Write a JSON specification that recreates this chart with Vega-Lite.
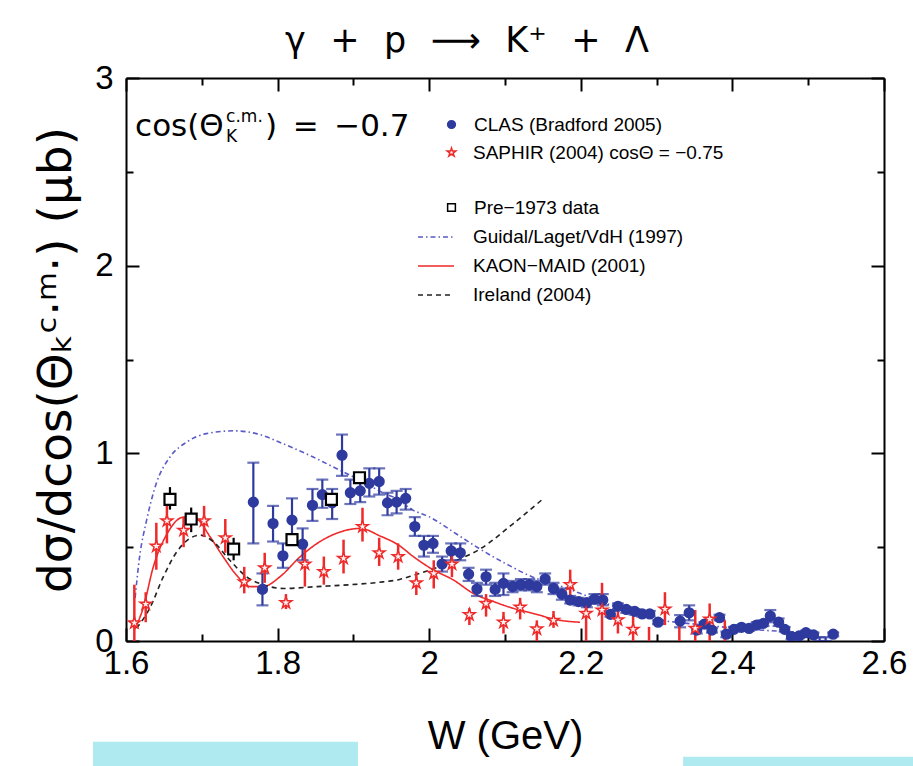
{
  "$schema": "https://vega.github.io/schema/vega-lite/v6.json",
  "width": 758,
  "height": 563,
  "autosize": {"type": "none"},
  "padding": {"left": 126, "top": 78, "right": 29, "bottom": 125},
  "background": "white",
  "config": {"view": {"stroke": null}, "font": "Liberation Sans"},
  "title": {
    "text": "γ\u2002\u2009+\u2002\u2009p\u2002\u2009⟶\u2002\u2009K⁺\u2002\u2009+\u2002\u2009Λ",
    "fontSize": 35, "font": "DejaVu Sans", "fontWeight": "normal", "color": "black",
    "frame": "group", "anchor": "middle", "dx": -38, "dy": 52, "offset": 27, "baseline": "alphabetic"
  },
  "datasets": {
    "curves": [
      {"model": "Guidal/Laget/VdH (1997)", "W": 1.612, "v": 0.23},
      {"model": "Guidal/Laget/VdH (1997)", "W": 1.618, "v": 0.45},
      {"model": "Guidal/Laget/VdH (1997)", "W": 1.627, "v": 0.64},
      {"model": "Guidal/Laget/VdH (1997)", "W": 1.640, "v": 0.84},
      {"model": "Guidal/Laget/VdH (1997)", "W": 1.658, "v": 0.98},
      {"model": "Guidal/Laget/VdH (1997)", "W": 1.680, "v": 1.06},
      {"model": "Guidal/Laget/VdH (1997)", "W": 1.706, "v": 1.105},
      {"model": "Guidal/Laget/VdH (1997)", "W": 1.742, "v": 1.12},
      {"model": "Guidal/Laget/VdH (1997)", "W": 1.772, "v": 1.105},
      {"model": "Guidal/Laget/VdH (1997)", "W": 1.808, "v": 1.05},
      {"model": "Guidal/Laget/VdH (1997)", "W": 1.847, "v": 0.98},
      {"model": "Guidal/Laget/VdH (1997)", "W": 1.882, "v": 0.91},
      {"model": "Guidal/Laget/VdH (1997)", "W": 1.909, "v": 0.856},
      {"model": "Guidal/Laget/VdH (1997)", "W": 1.939, "v": 0.79},
      {"model": "Guidal/Laget/VdH (1997)", "W": 1.961, "v": 0.75},
      {"model": "Guidal/Laget/VdH (1997)", "W": 1.975, "v": 0.706},
      {"model": "Guidal/Laget/VdH (1997)", "W": 2.001, "v": 0.66},
      {"model": "Guidal/Laget/VdH (1997)", "W": 2.036, "v": 0.57},
      {"model": "Guidal/Laget/VdH (1997)", "W": 2.067, "v": 0.49},
      {"model": "Guidal/Laget/VdH (1997)", "W": 2.102, "v": 0.41},
      {"model": "Guidal/Laget/VdH (1997)", "W": 2.137, "v": 0.34},
      {"model": "Guidal/Laget/VdH (1997)", "W": 2.168, "v": 0.30},
      {"model": "Guidal/Laget/VdH (1997)", "W": 2.199, "v": 0.254},
      {"model": "Guidal/Laget/VdH (1997)", "W": 2.234, "v": 0.20},
      {"model": "Guidal/Laget/VdH (1997)", "W": 2.274, "v": 0.14},
      {"model": "Guidal/Laget/VdH (1997)", "W": 2.30, "v": 0.115},
      {"model": "Guidal/Laget/VdH (1997)", "W": 2.35, "v": 0.09},
      {"model": "Guidal/Laget/VdH (1997)", "W": 2.40, "v": 0.07},
      {"model": "Guidal/Laget/VdH (1997)", "W": 2.45, "v": 0.055},
      {"model": "Guidal/Laget/VdH (1997)", "W": 2.50, "v": 0.045},
      {"model": "KAON−MAID (2001)", "W": 1.611, "v": 0.06},
      {"model": "KAON−MAID (2001)", "W": 1.623, "v": 0.18},
      {"model": "KAON−MAID (2001)", "W": 1.636, "v": 0.395},
      {"model": "KAON−MAID (2001)", "W": 1.654, "v": 0.57},
      {"model": "KAON−MAID (2001)", "W": 1.676, "v": 0.66},
      {"model": "KAON−MAID (2001)", "W": 1.693, "v": 0.65},
      {"model": "KAON−MAID (2001)", "W": 1.711, "v": 0.555},
      {"model": "KAON−MAID (2001)", "W": 1.728, "v": 0.45},
      {"model": "KAON−MAID (2001)", "W": 1.746, "v": 0.35},
      {"model": "KAON−MAID (2001)", "W": 1.764, "v": 0.29},
      {"model": "KAON−MAID (2001)", "W": 1.781, "v": 0.29},
      {"model": "KAON−MAID (2001)", "W": 1.803, "v": 0.342},
      {"model": "KAON−MAID (2001)", "W": 1.830, "v": 0.45},
      {"model": "KAON−MAID (2001)", "W": 1.856, "v": 0.53},
      {"model": "KAON−MAID (2001)", "W": 1.882, "v": 0.58},
      {"model": "KAON−MAID (2001)", "W": 1.909, "v": 0.60},
      {"model": "KAON−MAID (2001)", "W": 1.935, "v": 0.56},
      {"model": "KAON−MAID (2001)", "W": 1.960, "v": 0.51},
      {"model": "KAON−MAID (2001)", "W": 1.979, "v": 0.45},
      {"model": "KAON−MAID (2001)", "W": 2.005, "v": 0.38},
      {"model": "KAON−MAID (2001)", "W": 2.032, "v": 0.325},
      {"model": "KAON−MAID (2001)", "W": 2.058, "v": 0.254},
      {"model": "KAON−MAID (2001)", "W": 2.085, "v": 0.21},
      {"model": "KAON−MAID (2001)", "W": 2.111, "v": 0.174},
      {"model": "KAON−MAID (2001)", "W": 2.137, "v": 0.147},
      {"model": "KAON−MAID (2001)", "W": 2.173, "v": 0.11},
      {"model": "KAON−MAID (2001)", "W": 2.199, "v": 0.10},
      {"model": "Ireland (2004)", "W": 1.614, "v": 0.068},
      {"model": "Ireland (2004)", "W": 1.632, "v": 0.18},
      {"model": "Ireland (2004)", "W": 1.649, "v": 0.34},
      {"model": "Ireland (2004)", "W": 1.667, "v": 0.475},
      {"model": "Ireland (2004)", "W": 1.684, "v": 0.546},
      {"model": "Ireland (2004)", "W": 1.698, "v": 0.564},
      {"model": "Ireland (2004)", "W": 1.715, "v": 0.53},
      {"model": "Ireland (2004)", "W": 1.737, "v": 0.43},
      {"model": "Ireland (2004)", "W": 1.759, "v": 0.342},
      {"model": "Ireland (2004)", "W": 1.781, "v": 0.30},
      {"model": "Ireland (2004)", "W": 1.808, "v": 0.28},
      {"model": "Ireland (2004)", "W": 1.852, "v": 0.29},
      {"model": "Ireland (2004)", "W": 1.896, "v": 0.30},
      {"model": "Ireland (2004)", "W": 1.939, "v": 0.315},
      {"model": "Ireland (2004)", "W": 1.961, "v": 0.328},
      {"model": "Ireland (2004)", "W": 1.979, "v": 0.35},
      {"model": "Ireland (2004)", "W": 2.023, "v": 0.41},
      {"model": "Ireland (2004)", "W": 2.067, "v": 0.49},
      {"model": "Ireland (2004)", "W": 2.111, "v": 0.626},
      {"model": "Ireland (2004)", "W": 2.148, "v": 0.75}
    ],
    "pts": [
      {"series": "CLAS (Bradford 2005)", "W": 1.768, "v": 0.74, "lo": 0.52, "hi": 0.95},
      {"series": "CLAS (Bradford 2005)", "W": 1.780, "v": 0.275, "lo": 0.19, "hi": 0.36},
      {"series": "CLAS (Bradford 2005)", "W": 1.794, "v": 0.626, "lo": 0.53, "hi": 0.72},
      {"series": "CLAS (Bradford 2005)", "W": 1.807, "v": 0.454, "lo": 0.39, "hi": 0.52},
      {"series": "CLAS (Bradford 2005)", "W": 1.819, "v": 0.644, "lo": 0.54, "hi": 0.76},
      {"series": "CLAS (Bradford 2005)", "W": 1.833, "v": 0.516, "lo": 0.43, "hi": 0.60},
      {"series": "CLAS (Bradford 2005)", "W": 1.846, "v": 0.723, "lo": 0.64, "hi": 0.81},
      {"series": "CLAS (Bradford 2005)", "W": 1.859, "v": 0.78, "lo": 0.71, "hi": 0.86},
      {"series": "CLAS (Bradford 2005)", "W": 1.872, "v": 0.736, "lo": 0.65, "hi": 0.81},
      {"series": "CLAS (Bradford 2005)", "W": 1.885, "v": 0.99, "lo": 0.88, "hi": 1.10},
      {"series": "CLAS (Bradford 2005)", "W": 1.896, "v": 0.79, "lo": 0.73, "hi": 0.86},
      {"series": "CLAS (Bradford 2005)", "W": 1.909, "v": 0.80, "lo": 0.74, "hi": 0.87},
      {"series": "CLAS (Bradford 2005)", "W": 1.921, "v": 0.84, "lo": 0.77, "hi": 0.92},
      {"series": "CLAS (Bradford 2005)", "W": 1.934, "v": 0.85, "lo": 0.78, "hi": 0.92},
      {"series": "CLAS (Bradford 2005)", "W": 1.945, "v": 0.736, "lo": 0.67, "hi": 0.79},
      {"series": "CLAS (Bradford 2005)", "W": 1.957, "v": 0.74, "lo": 0.68, "hi": 0.80},
      {"series": "CLAS (Bradford 2005)", "W": 1.969, "v": 0.76, "lo": 0.70, "hi": 0.81},
      {"series": "CLAS (Bradford 2005)", "W": 1.981, "v": 0.61, "lo": 0.56, "hi": 0.66},
      {"series": "CLAS (Bradford 2005)", "W": 1.993, "v": 0.51, "lo": 0.45, "hi": 0.56},
      {"series": "CLAS (Bradford 2005)", "W": 2.005, "v": 0.52, "lo": 0.47, "hi": 0.56},
      {"series": "CLAS (Bradford 2005)", "W": 2.017, "v": 0.41, "lo": 0.37, "hi": 0.45},
      {"series": "CLAS (Bradford 2005)", "W": 2.029, "v": 0.48, "lo": 0.43, "hi": 0.52},
      {"series": "CLAS (Bradford 2005)", "W": 2.041, "v": 0.47, "lo": 0.43, "hi": 0.52},
      {"series": "CLAS (Bradford 2005)", "W": 2.052, "v": 0.356, "lo": 0.32, "hi": 0.39},
      {"series": "CLAS (Bradford 2005)", "W": 2.063, "v": 0.277, "lo": 0.24, "hi": 0.31},
      {"series": "CLAS (Bradford 2005)", "W": 2.075, "v": 0.342, "lo": 0.30, "hi": 0.38},
      {"series": "CLAS (Bradford 2005)", "W": 2.087, "v": 0.275, "lo": 0.24, "hi": 0.31},
      {"series": "CLAS (Bradford 2005)", "W": 2.098, "v": 0.307, "lo": 0.245, "hi": 0.36},
      {"series": "CLAS (Bradford 2005)", "W": 2.110, "v": 0.29, "lo": 0.26, "hi": 0.32},
      {"series": "CLAS (Bradford 2005)", "W": 2.121, "v": 0.30, "lo": 0.27, "hi": 0.33},
      {"series": "CLAS (Bradford 2005)", "W": 2.132, "v": 0.30, "lo": 0.27, "hi": 0.33},
      {"series": "CLAS (Bradford 2005)", "W": 2.142, "v": 0.29, "lo": 0.26, "hi": 0.32},
      {"series": "CLAS (Bradford 2005)", "W": 2.153, "v": 0.33, "lo": 0.30, "hi": 0.36},
      {"series": "CLAS (Bradford 2005)", "W": 2.164, "v": 0.28, "lo": 0.25, "hi": 0.31},
      {"series": "CLAS (Bradford 2005)", "W": 2.175, "v": 0.25, "lo": 0.22, "hi": 0.28},
      {"series": "CLAS (Bradford 2005)", "W": 2.186, "v": 0.218, "lo": 0.20, "hi": 0.24},
      {"series": "CLAS (Bradford 2005)", "W": 2.197, "v": 0.21, "lo": 0.19, "hi": 0.23},
      {"series": "CLAS (Bradford 2005)", "W": 2.208, "v": 0.204, "lo": 0.18, "hi": 0.22},
      {"series": "CLAS (Bradford 2005)", "W": 2.218, "v": 0.223, "lo": 0.20, "hi": 0.25},
      {"series": "CLAS (Bradford 2005)", "W": 2.229, "v": 0.218, "lo": 0.19, "hi": 0.25},
      {"series": "CLAS (Bradford 2005)", "W": 2.239, "v": 0.142, "lo": 0.13, "hi": 0.16},
      {"series": "CLAS (Bradford 2005)", "W": 2.249, "v": 0.185, "lo": 0.17, "hi": 0.20},
      {"series": "CLAS (Bradford 2005)", "W": 2.260, "v": 0.168, "lo": 0.15, "hi": 0.18},
      {"series": "CLAS (Bradford 2005)", "W": 2.271, "v": 0.158, "lo": 0.14, "hi": 0.17},
      {"series": "CLAS (Bradford 2005)", "W": 2.281, "v": 0.144, "lo": 0.13, "hi": 0.16},
      {"series": "CLAS (Bradford 2005)", "W": 2.291, "v": 0.144, "lo": 0.13, "hi": 0.16},
      {"series": "CLAS (Bradford 2005)", "W": 2.302, "v": 0.10, "lo": 0.09, "hi": 0.11},
      {"series": "CLAS (Bradford 2005)", "W": 2.331, "v": 0.106, "lo": 0.073, "hi": 0.138},
      {"series": "CLAS (Bradford 2005)", "W": 2.343, "v": 0.15, "lo": 0.11, "hi": 0.19},
      {"series": "CLAS (Bradford 2005)", "W": 2.353, "v": 0.058, "lo": 0.04, "hi": 0.07},
      {"series": "CLAS (Bradford 2005)", "W": 2.363, "v": 0.09, "lo": 0.08, "hi": 0.10},
      {"series": "CLAS (Bradford 2005)", "W": 2.373, "v": 0.058, "lo": 0.045, "hi": 0.07},
      {"series": "CLAS (Bradford 2005)", "W": 2.383, "v": 0.124, "lo": 0.11, "hi": 0.14},
      {"series": "CLAS (Bradford 2005)", "W": 2.392, "v": 0.036, "lo": 0.02, "hi": 0.05},
      {"series": "CLAS (Bradford 2005)", "W": 2.402, "v": 0.062, "lo": 0.05, "hi": 0.075},
      {"series": "CLAS (Bradford 2005)", "W": 2.412, "v": 0.073, "lo": 0.06, "hi": 0.085},
      {"series": "CLAS (Bradford 2005)", "W": 2.422, "v": 0.067, "lo": 0.055, "hi": 0.08},
      {"series": "CLAS (Bradford 2005)", "W": 2.432, "v": 0.085, "lo": 0.07, "hi": 0.10},
      {"series": "CLAS (Bradford 2005)", "W": 2.441, "v": 0.094, "lo": 0.08, "hi": 0.11},
      {"series": "CLAS (Bradford 2005)", "W": 2.450, "v": 0.133, "lo": 0.10, "hi": 0.165},
      {"series": "CLAS (Bradford 2005)", "W": 2.461, "v": 0.10, "lo": 0.08, "hi": 0.12},
      {"series": "CLAS (Bradford 2005)", "W": 2.469, "v": 0.062, "lo": 0.05, "hi": 0.075},
      {"series": "CLAS (Bradford 2005)", "W": 2.478, "v": 0.023, "lo": 0.01, "hi": 0.035},
      {"series": "CLAS (Bradford 2005)", "W": 2.488, "v": 0.027, "lo": 0.015, "hi": 0.04},
      {"series": "CLAS (Bradford 2005)", "W": 2.497, "v": 0.044, "lo": 0.03, "hi": 0.055},
      {"series": "CLAS (Bradford 2005)", "W": 2.507, "v": 0.032, "lo": 0.02, "hi": 0.045},
      {"series": "CLAS (Bradford 2005)", "W": 2.515, "v": -0.03, "lo": 0.0, "hi": 0.02},
      {"series": "CLAS (Bradford 2005)", "W": 2.523, "v": -0.03, "lo": 0.0, "hi": 0.02},
      {"series": "CLAS (Bradford 2005)", "W": 2.533, "v": 0.036, "lo": 0.025, "hi": 0.045},
      {"series": "SAPHIR (2004) cosΘ = −0.75", "W": 1.611, "v": 0.097, "lo": 0.0, "hi": 0.30},
      {"series": "SAPHIR (2004) cosΘ = −0.75", "W": 1.626, "v": 0.197, "lo": 0.10, "hi": 0.26},
      {"series": "SAPHIR (2004) cosΘ = −0.75", "W": 1.640, "v": 0.505, "lo": 0.38, "hi": 0.63},
      {"series": "SAPHIR (2004) cosΘ = −0.75", "W": 1.654, "v": 0.64, "lo": 0.52, "hi": 0.73},
      {"series": "SAPHIR (2004) cosΘ = −0.75", "W": 1.676, "v": 0.59, "lo": 0.50, "hi": 0.66},
      {"series": "SAPHIR (2004) cosΘ = −0.75", "W": 1.703, "v": 0.64, "lo": 0.555, "hi": 0.72},
      {"series": "SAPHIR (2004) cosΘ = −0.75", "W": 1.731, "v": 0.55, "lo": 0.47, "hi": 0.65},
      {"series": "SAPHIR (2004) cosΘ = −0.75", "W": 1.756, "v": 0.315, "lo": 0.254, "hi": 0.395},
      {"series": "SAPHIR (2004) cosΘ = −0.75", "W": 1.783, "v": 0.39, "lo": 0.31, "hi": 0.47},
      {"series": "SAPHIR (2004) cosΘ = −0.75", "W": 1.811, "v": 0.204, "lo": 0.17, "hi": 0.25},
      {"series": "SAPHIR (2004) cosΘ = −0.75", "W": 1.836, "v": 0.41, "lo": 0.29, "hi": 0.50},
      {"series": "SAPHIR (2004) cosΘ = −0.75", "W": 1.861, "v": 0.37, "lo": 0.30, "hi": 0.45},
      {"series": "SAPHIR (2004) cosΘ = −0.75", "W": 1.887, "v": 0.44, "lo": 0.36, "hi": 0.54},
      {"series": "SAPHIR (2004) cosΘ = −0.75", "W": 1.912, "v": 0.61, "lo": 0.53, "hi": 0.71},
      {"series": "SAPHIR (2004) cosΘ = −0.75", "W": 1.934, "v": 0.47, "lo": 0.40, "hi": 0.55},
      {"series": "SAPHIR (2004) cosΘ = −0.75", "W": 1.959, "v": 0.45, "lo": 0.38, "hi": 0.52},
      {"series": "SAPHIR (2004) cosΘ = −0.75", "W": 1.983, "v": 0.31, "lo": 0.245, "hi": 0.37},
      {"series": "SAPHIR (2004) cosΘ = −0.75", "W": 2.006, "v": 0.36, "lo": 0.28, "hi": 0.43},
      {"series": "SAPHIR (2004) cosΘ = −0.75", "W": 2.030, "v": 0.41, "lo": 0.34, "hi": 0.475},
      {"series": "SAPHIR (2004) cosΘ = −0.75", "W": 2.053, "v": 0.14, "lo": 0.085, "hi": 0.174},
      {"series": "SAPHIR (2004) cosΘ = −0.75", "W": 2.075, "v": 0.20, "lo": 0.13, "hi": 0.25},
      {"series": "SAPHIR (2004) cosΘ = −0.75", "W": 2.098, "v": 0.10, "lo": 0.04, "hi": 0.155},
      {"series": "SAPHIR (2004) cosΘ = −0.75", "W": 2.120, "v": 0.18, "lo": 0.115, "hi": 0.23},
      {"series": "SAPHIR (2004) cosΘ = −0.75", "W": 2.142, "v": 0.064, "lo": 0.0, "hi": 0.11},
      {"series": "SAPHIR (2004) cosΘ = −0.75", "W": 2.164, "v": 0.11, "lo": 0.07, "hi": 0.16},
      {"series": "SAPHIR (2004) cosΘ = −0.75", "W": 2.186, "v": 0.30, "lo": 0.21, "hi": 0.38},
      {"series": "SAPHIR (2004) cosΘ = −0.75", "W": 2.207, "v": 0.147, "lo": 0.0, "hi": 0.22},
      {"series": "SAPHIR (2004) cosΘ = −0.75", "W": 2.228, "v": 0.165, "lo": 0.0, "hi": 0.31},
      {"series": "SAPHIR (2004) cosΘ = −0.75", "W": 2.249, "v": 0.113, "lo": 0.04, "hi": 0.19},
      {"series": "SAPHIR (2004) cosΘ = −0.75", "W": 2.269, "v": 0.062, "lo": 0.0, "hi": 0.14},
      {"series": "SAPHIR (2004) cosΘ = −0.75", "W": 2.290, "v": -0.03, "lo": 0.0, "hi": 0.075},
      {"series": "SAPHIR (2004) cosΘ = −0.75", "W": 2.311, "v": 0.17, "lo": 0.085, "hi": 0.26},
      {"series": "SAPHIR (2004) cosΘ = −0.75", "W": 2.330, "v": -0.03, "lo": 0.0, "hi": 0.11},
      {"series": "SAPHIR (2004) cosΘ = −0.75", "W": 2.351, "v": 0.067, "lo": 0.0, "hi": 0.165},
      {"series": "SAPHIR (2004) cosΘ = −0.75", "W": 2.370, "v": 0.117, "lo": 0.0, "hi": 0.20},
      {"series": "SAPHIR (2004) cosΘ = −0.75", "W": 2.390, "v": -0.03, "lo": 0.0, "hi": 0.11},
      {"series": "Pre−1973 data", "W": 1.658, "v": 0.755, "lo": 0.70, "hi": 0.82},
      {"series": "Pre−1973 data", "W": 1.686, "v": 0.65, "lo": 0.58, "hi": 0.711},
      {"series": "Pre−1973 data", "W": 1.742, "v": 0.49, "lo": 0.43, "hi": 0.55},
      {"series": "Pre−1973 data", "W": 1.819, "v": 0.54, "lo": 0.54, "hi": 0.54},
      {"series": "Pre−1973 data", "W": 1.871, "v": 0.755, "lo": 0.755, "hi": 0.755},
      {"series": "Pre−1973 data", "W": 1.908, "v": 0.87, "lo": 0.87, "hi": 0.87}
    ]
  },
  "resolve": {
    "axis": {"x": "independent", "y": "independent"},
    "scale": {"shape": "independent"}
  },
  "layer": [
    {
      "data": {"values": [{}]},
      "mark": {"type": "rect", "color": "#aeeaf0", "clip": false},
      "encoding": {
        "x": {"datum": 1.5565, "type": "quantitative", "axis": null},
        "x2": {"datum": 1.906},
        "y": {"datum": -0.537, "type": "quantitative", "axis": null},
        "y2": {"datum": -0.70}
      }
    },
    {
      "data": {"values": [{}]},
      "mark": {"type": "rect", "color": "#aeeaf0", "clip": false},
      "encoding": {
        "x": {"datum": 2.335, "type": "quantitative", "axis": null},
        "x2": {"datum": 2.64},
        "y": {"datum": -0.617, "type": "quantitative", "axis": null},
        "y2": {"datum": -0.70}
      }
    },
    {
      "data": {"name": "curves"},
      "mark": {"type": "line", "strokeWidth": 1.6, "interpolate": "monotone", "clip": true},
      "encoding": {
        "x": {
          "field": "W", "type": "quantitative",
          "scale": {"domain": [1.6, 2.6], "nice": false, "zero": false},
          "axis": {
            "orient": "bottom",
            "values": [1.6, 1.7, 1.8, 1.9, 2, 2.1, 2.2, 2.3, 2.4, 2.5, 2.6],
            "labelExpr": "round(datum.value*10)%2==0 ? format(datum.value,'~g') : ''",
            "tickSize": {"condition": {"test": "round(datum.value*10)%2==0", "value": -13}, "value": -7},
            "tickWidth": 2, "tickColor": "black", "domainWidth": 2, "domainColor": "black",
            "labelFontSize": 33, "labelColor": "black", "labelPadding": 19,
            "labelFlush": false, "labelOverlap": false, "grid": false,
            "title": "W (GeV)", "titleFontSize": 40, "titleFontWeight": "normal", "titleColor": "black",
            "titleFont": "Liberation Sans", "titlePadding": 30
          }
        },
        "y": {
          "field": "v", "type": "quantitative",
          "scale": {"domain": [0, 3], "nice": false, "zero": false},
          "axis": {
            "orient": "left",
            "values": [0, 0.5, 1, 1.5, 2, 2.5, 3],
            "labelExpr": "datum.value % 1 == 0 ? format(datum.value,'d') : ''",
            "tickSize": {"condition": {"test": "datum.value % 1 == 0", "value": -13}, "value": -7},
            "tickWidth": 2, "tickColor": "black", "domainWidth": 2, "domainColor": "black",
            "labelFontSize": 33, "labelColor": "black", "labelPadding": 26,
            "labelFlush": false, "labelOverlap": false, "grid": false,
            "title": "dσ/dcos(Θₖᶜ·ᵐ·) (μb)", "titleFontSize": 47, "titleFontWeight": "normal",
            "titleColor": "black", "titleFont": "DejaVu Sans", "titlePadding": 14
          }
        },
        "color": {
          "field": "model", "type": "nominal",
          "scale": {"domain": ["Guidal/Laget/VdH (1997)", "KAON−MAID (2001)", "Ireland (2004)"], "range": ["#5a5ac8", "#ee2a2a", "#222222"]},
          "legend": {
            "orient": "none", "legendX": 291, "legendY": 140, "title": null, "padding": 0,
            "symbolType": "stroke", "symbolSize": 1296, "symbolStrokeWidth": 1.6,
            "labelFontSize": 19, "labelColor": "black", "labelOffset": 18, "rowPadding": -10, "labelLimit": 400
          }
        },
        "strokeDash": {
          "field": "model", "type": "nominal",
          "scale": {"domain": ["Guidal/Laget/VdH (1997)", "KAON−MAID (2001)", "Ireland (2004)"], "range": [[5, 3, 1.5, 3], [1, 0], [5, 4]]},
          "legend": {
            "orient": "none", "legendX": 291, "legendY": 140, "title": null, "padding": 0,
            "symbolType": "stroke", "symbolSize": 1296, "symbolStrokeWidth": 1.6,
            "labelFontSize": 19, "labelColor": "black", "labelOffset": 18, "rowPadding": -10, "labelLimit": 400
          }
        }
      }
    },
    {
      "data": {"name": "pts"},
      "transform": [{"filter": "datum.series == 'CLAS (Bradford 2005)'"}],
      "mark": {"type": "errorbar", "color": "#2e3a9e", "thickness": 2.2, "ticks": {"size": 12, "thickness": 2.2, "color": "#2e3a9e"}, "clip": true},
      "encoding": {
        "x": {"field": "W", "type": "quantitative", "axis": null},
        "y": {"field": "lo", "type": "quantitative", "axis": null},
        "y2": {"field": "hi"}
      }
    },
    {
      "data": {"name": "pts"},
      "transform": [{"filter": "datum.series == 'SAPHIR (2004) cosΘ = −0.75'"}],
      "mark": {"type": "rule", "color": "#ee2a2a", "strokeWidth": 2.5, "clip": true},
      "encoding": {
        "x": {"field": "W", "type": "quantitative", "axis": null},
        "y": {"field": "lo", "type": "quantitative", "axis": null},
        "y2": {"field": "hi"}
      }
    },
    {
      "data": {"name": "pts"},
      "transform": [{"filter": "datum.series == 'Pre−1973 data'"}],
      "mark": {"type": "rule", "color": "black", "strokeWidth": 2.2, "clip": true},
      "encoding": {
        "x": {"field": "W", "type": "quantitative", "axis": null},
        "y": {"field": "lo", "type": "quantitative", "axis": null},
        "y2": {"field": "hi"}
      }
    },
    {
      "data": {"name": "pts"},
      "transform": [{"filter": "datum.series == 'CLAS (Bradford 2005)'"}],
      "mark": {"type": "point", "filled": true, "fill": "#2e3a9e", "stroke": "#2e3a9e", "size": 95, "strokeWidth": 1.5, "opacity": 1, "clip": true},
      "encoding": {
        "x": {
          "field": "W", "type": "quantitative",
          "axis": {
            "orient": "top", "values": [1.6, 1.7, 1.8, 1.9, 2, 2.1, 2.2, 2.3, 2.4, 2.5, 2.6],
            "labels": false, "title": null, "grid": false,
            "tickSize": {"condition": {"test": "round(datum.value*10)%2==0", "value": -13}, "value": -7},
            "tickWidth": 2, "tickColor": "black", "domainWidth": 2, "domainColor": "black"
          }
        },
        "y": {
          "field": "v", "type": "quantitative",
          "axis": {
            "orient": "right", "values": [0, 0.5, 1, 1.5, 2, 2.5, 3],
            "labels": false, "title": null, "grid": false,
            "tickSize": {"condition": {"test": "datum.value % 1 == 0", "value": -13}, "value": -7},
            "tickWidth": 2, "tickColor": "black", "domainWidth": 2, "domainColor": "black"
          }
        },
        "shape": {
          "field": "series", "type": "nominal",
          "scale": {"domain": ["CLAS (Bradford 2005)"], "range": ["circle"]},
          "legend": {
            "orient": "none", "legendX": 316, "legendY": 37, "title": null, "padding": 0,
            "symbolSize": 60,
            "labelFontSize": 19, "labelColor": "black", "labelOffset": 13, "labelLimit": 400,
            "encode": {
              "symbols": {
                "update": {
                  "fill": {"value": "#2e3a9e"},
                  "stroke": {"value": "#2e3a9e"},
                  "strokeWidth": {"value": 1},
                  "opacity": {"value": 1}
                }
              }
            }
          }
        }
      }
    },
    {
      "data": {"name": "pts"},
      "transform": [{"filter": "datum.series == 'SAPHIR (2004) cosΘ = −0.75'"}],
      "mark": {"type": "point", "filled": true, "fill": "#fff0f0", "stroke": "#ee2a2a", "size": 150, "strokeWidth": 1.5, "opacity": 1, "clip": true},
      "encoding": {
        "x": {"field": "W", "type": "quantitative", "axis": null},
        "y": {"field": "v", "type": "quantitative", "axis": null},
        "shape": {
          "field": "series", "type": "nominal",
          "scale": {"domain": ["SAPHIR (2004) cosΘ = −0.75"], "range": ["M0,-1L0.225,-0.309L0.951,-0.309L0.363,0.118L0.588,0.809L0,0.382L-0.588,0.809L-0.363,0.118L-0.951,-0.309L-0.225,-0.309Z"]},
          "legend": {
            "orient": "none", "legendX": 316, "legendY": 65, "title": null, "padding": 0,
            "symbolSize": 80,
            "labelFontSize": 19, "labelColor": "black", "labelOffset": 12, "labelLimit": 400,
            "encode": {
              "symbols": {
                "update": {
                  "fill": {"value": "#fff0f0"},
                  "stroke": {"value": "#ee2a2a"},
                  "strokeWidth": {"value": 1.2},
                  "opacity": {"value": 1}
                }
              }
            }
          }
        }
      }
    },
    {
      "data": {"name": "pts"},
      "transform": [{"filter": "datum.series == 'Pre−1973 data'"}],
      "mark": {"type": "point", "shape": "square", "filled": true, "fill": "white", "stroke": "black", "size": 120, "strokeWidth": 2.2, "opacity": 1},
      "encoding": {
        "x": {"field": "W", "type": "quantitative", "axis": null},
        "y": {"field": "v", "type": "quantitative", "axis": null},
        "shape": {
          "field": "series", "type": "nominal",
          "scale": {"domain": ["Pre−1973 data"], "range": ["square"]},
          "legend": {
            "orient": "none", "legendX": 316, "legendY": 120, "title": null, "padding": 0,
            "symbolSize": 60,
            "labelFontSize": 19, "labelColor": "black", "labelOffset": 13, "labelLimit": 400,
            "encode": {
              "symbols": {
                "update": {
                  "fill": {"value": "white"},
                  "stroke": {"value": "black"},
                  "strokeWidth": {"value": 1.3},
                  "opacity": {"value": 1}
                }
              }
            }
          }
        }
      }
    },
    {
      "data": {"values": [{}]},
      "mark": {"type": "text", "align": "left", "baseline": "alphabetic", "fontSize": 31, "font": "DejaVu Sans", "color": "black", "text": "cos(Θ"},
      "encoding": {
        "x": {"datum": 1.612, "type": "quantitative", "axis": null},
        "y": {"datum": 2.69, "type": "quantitative", "axis": null}
      }
    },
    {
      "data": {"values": [{}]},
      "mark": {"type": "text", "align": "left", "baseline": "alphabetic", "fontSize": 17, "font": "DejaVu Sans", "color": "black", "text": "c.m.", "dx": 91, "dy": -14},
      "encoding": {
        "x": {"datum": 1.612, "type": "quantitative", "axis": null},
        "y": {"datum": 2.69, "type": "quantitative", "axis": null}
      }
    },
    {
      "data": {"values": [{}]},
      "mark": {"type": "text", "align": "left", "baseline": "alphabetic", "fontSize": 17, "font": "DejaVu Sans", "color": "black", "text": "K", "dx": 91, "dy": 6},
      "encoding": {
        "x": {"datum": 1.612, "type": "quantitative", "axis": null},
        "y": {"datum": 2.69, "type": "quantitative", "axis": null}
      }
    },
    {
      "data": {"values": [{}]},
      "mark": {"type": "text", "align": "left", "baseline": "alphabetic", "fontSize": 31, "font": "DejaVu Sans", "color": "black", "text": ")\u2002=\u2002−0.7", "dx": 130},
      "encoding": {
        "x": {"datum": 1.612, "type": "quantitative", "axis": null},
        "y": {"datum": 2.69, "type": "quantitative", "axis": null}
      }
    }
  ]
}
